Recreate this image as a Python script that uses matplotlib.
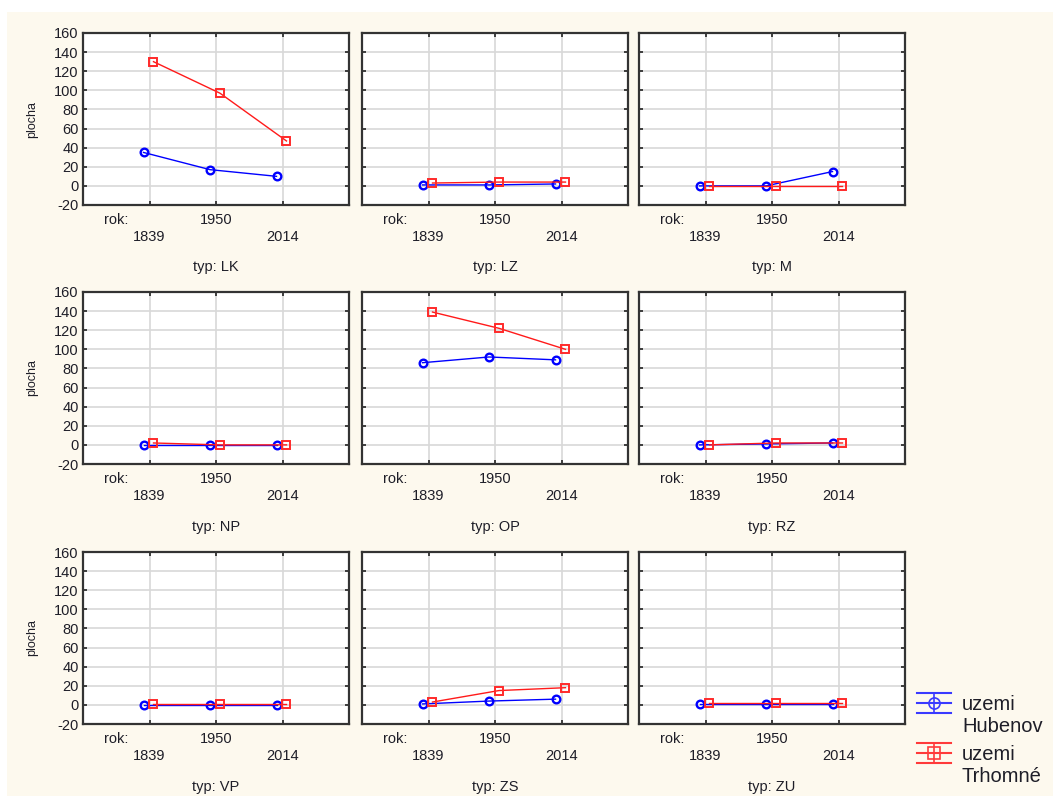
import matplotlib
matplotlib.use("Agg")
import matplotlib.pyplot as plt
from matplotlib.patches import Rectangle
from matplotlib.lines import Line2D

plt.rcParams['font.family'] = ['Liberation Sans', 'DejaVu Sans']
plt.rcParams['axes.unicode_minus'] = False

# ---- data ----
years = ["1839", "1950", "2014"]
types = ["LK", "LZ", "M", "NP", "OP", "RZ", "VP", "ZS", "ZU"]
hubenov = {
    "LK": [35, 17, 10],
    "LZ": [1, 1, 2],
    "M":  [0, 0, 15],
    "NP": [0, 0, 0],
    "OP": [86, 92, 89],
    "RZ": [0, 1, 2],
    "VP": [0, 0, 0],
    "ZS": [1, 4, 6],
    "ZU": [1, 1, 1],
}
trhomne = {
    "LK": [130, 97, 47],
    "LZ": [3, 4, 4],
    "M":  [0, 0, 0],
    "NP": [2, 0, 0],
    "OP": [139, 122, 100],
    "RZ": [0, 2, 2],
    "VP": [1, 1, 1],
    "ZS": [3, 15, 18],
    "ZU": [2, 2, 2],
}
series_labels = ["uzemi\nHubenov", "uzemi\nTrhomné"]
yticks = list(range(-20, 161, 20))

W, H = 1053, 796
fig = plt.figure(figsize=(W / 100, H / 100), dpi=100, facecolor="white")
cream = "#fdf9ee"
fig.patches.append(Rectangle((7 / W, 0), 1, (H - 12) / H, transform=fig.transFigure,
                             facecolor=cream, edgecolor="none", zorder=-10))

col_left = [83, 362, 639]
row_top = [33, 292, 552]
aw, ah = 266, 172
txt = "#1e1e28"

for i, t in enumerate(types):
    r, c = divmod(i, 3)
    L, T = col_left[c], row_top[r]
    ax = fig.add_axes([L / W, 1 - (T + ah) / H, aw / W, ah / H])
    ax.set_facecolor("white")
    x = list(range(len(years)))
    xb = [v - 0.09 for v in x]
    xr = [v + 0.06 for v in x]
    ax.plot(xb, hubenov[t], color="#0000ff", lw=1.0, marker="o", ms=5.5,
            mfc="none", mec="#0000ff", mew=1.7, zorder=3)
    ax.plot(xr, trhomne[t], color="#ff1a1a", lw=1.0, marker="s", ms=5.5,
            mfc="none", mec="#ff2a2a", mew=1.4, zorder=3)
    ax.set_xlim(-1, 3)
    ax.set_ylim(-20, 160)
    ax.set_xticks(x)
    ax.set_xticklabels([])
    ax.set_yticks(yticks)
    ax.grid(True, color="#d8d8d8", lw=1.2, zorder=0)
    ax.set_axisbelow(True)
    ax.tick_params(direction="in", length=3, width=1.2, color="#222222",
                   top=True, right=True, labelsize=10.5, labelcolor=txt, pad=3)
    for s in ax.spines.values():
        s.set_color("#333333")
        s.set_linewidth(1.6)
    if c == 0:
        ax.set_ylabel("plocha", fontsize=9, color=txt)
        ax.yaxis.set_label_coords(-0.17, 0.5)
    else:
        ax.set_yticklabels([])
    tr = ax.get_xaxis_transform()
    ax.annotate("rok:", xy=(-0.5, 0), xycoords=tr, xytext=(0, -11), textcoords="offset points",
                ha="center", va="center", fontsize=10.5, color=txt)
    for k, y in enumerate(years):
        off = -11 if k % 2 == 1 else -23
        ax.annotate(y, xy=(k, 0), xycoords=tr, xytext=(0, off), textcoords="offset points",
                    ha="center", va="center", fontsize=10.5, color=txt)
    ax.annotate("typ: " + t, xy=(1, 0), xycoords=tr, xytext=(0, -45), textcoords="offset points",
                ha="center", va="center", fontsize=10.5, color=txt)

# ---- legend ----
def px(xp, yp):
    return xp / W, 1 - yp / H

def legend_symbol(yc, color, marker):
    x0, x1, xm = 917, 951, 934
    for dy in (-10, 0, 10):
        xa, ya = px(x0, yc + dy)
        xb_, yb = px(x1, yc + dy)
        fig.add_artist(Line2D([xa, xb_], [ya, yb], transform=fig.transFigure,
                              color=color, lw=1.5))
    xa, ya = px(xm, yc - 10)
    xb_, yb = px(xm, yc + 10)
    fig.add_artist(Line2D([xa, xb_], [ya, yb], transform=fig.transFigure, color=color, lw=1.2))
    xm_, ym_ = px(xm, yc)
    fig.add_artist(Line2D([xm_], [ym_], transform=fig.transFigure, marker=marker,
                          ms=8, mfc="none", mec=color, mew=1.2, ls="none"))

legend_symbol(703, "#3a3aff", "o")
legend_symbol(753, "#ff3a3a", "s")
for yc, lab in ((715, series_labels[0]), (766, series_labels[1])):
    xx, yy = px(962, yc)
    fig.text(xx, yy, lab, ha="left", va="center", fontsize=14.5, color=txt, linespacing=1.2)

fig.savefig("out.png", dpi=100, facecolor="white")
